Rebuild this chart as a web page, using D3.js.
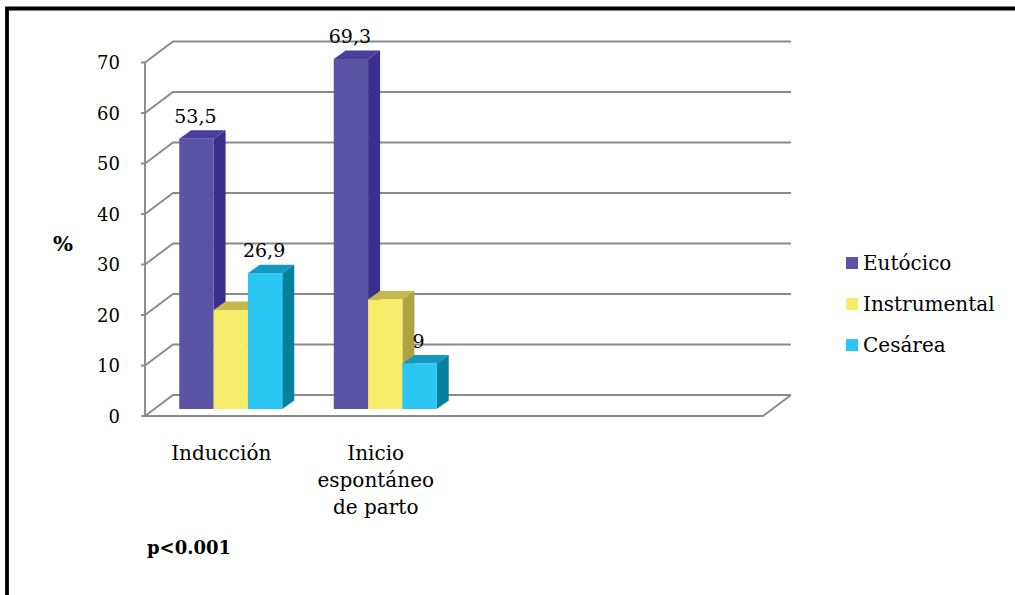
<!DOCTYPE html>
<html>
<head>
<meta charset="utf-8">
<script src="https://cdn.jsdelivr.net/npm/d3@7/dist/d3.min.js"></script>
<style>
  html, body { margin: 0; padding: 0; background: #fff; }
  svg { display: block; }
  text { font-family: "DejaVu Serif", "Liberation Serif", serif; fill: #000; }
</style>
</head>
<body>
<svg id="chart" width="1015" height="595"></svg>
<script>
// Tipo de parto según el inicio del trabajo de parto (%)
const categories = ["Inducción", "Inicio espontáneo de parto"];
const slotCount = 4; // the category axis keeps two empty slots on the right
const series = ["Eutócico", "Instrumental", "Cesárea"];
const eutocico = [53.5, 69.3];
const instrumental = [19.6, 21.7];
const cesarea = [26.9, 9];
const labelled = [true, false, true];
const yTicks = [0, 10, 20, 30, 40, 50, 60, 70];
const yLabel = "%";
const note = "p<0.001";

const values = [eutocico, instrumental, cesarea];
const faceColors = [
  { front: "#5b53a4", side: "#3b2f8e", top: "#4a3f9c" },
  { front: "#f8ec6b", side: "#b0a243", top: "#c7b84c" },
  { front: "#2bc6f2", side: "#0581a0", top: "#1598c0" }
];

const svg = d3.select("#chart");
const fmt = d3.formatLocale({ decimal: ",", thousands: ".", grouping: [3], currency: ["", "€"] }).format("~");

// 3D projection: full floor depth and the bars' placement inside it
const depth = { dx: 28, dy: -21 };
const barOffset = { dx: 8.5, dy: -7 };
const barDepth = { dx: 12, dy: -8.5 };

const x0 = d3.scaleBand()
  .domain(d3.range(slotCount))
  .range([145, 763])
  .paddingInner(1 / 3)
  .paddingOuter(1 / 6);
const x1 = d3.scaleBand()
  .domain(d3.range(series.length))
  .range([0, x0.bandwidth()]);
const y = d3.scaleLinear().domain([0, 70]).range([416, 62.5]);

const grid = svg.append("g")
  .attr("fill", "none")
  .attr("stroke", "#8a8a8a")
  .attr("stroke-width", 1.9);

const xL = x0.range()[0], xR = x0.range()[1];

// back wall lines and side wall diagonals
yTicks.forEach(t => {
  const yy = y(t);
  grid.append("path").attr("d", `M${xL},${yy}L${xL + depth.dx},${yy + depth.dy}L${xR + depth.dx},${yy + depth.dy}`);
});
// floor
grid.append("path").attr("d",
  `M${xL},${y(0)}L${xR},${y(0)}L${xR + depth.dx},${y(0) + depth.dy}`);
// front vertical axis with ticks
grid.append("path").attr("d", `M${xL},${y(0)}L${xL},${y(70)}`);
yTicks.forEach(t => {
  grid.append("path").attr("d", `M${xL - 4},${y(t)}L${xL},${y(t)}`);
});

// tick labels
svg.append("g").selectAll("text").data(yTicks).join("text")
  .attr("x", 120).attr("y", d => y(d)).attr("dy", "0.38em")
  .attr("text-anchor", "end").attr("font-size", 18)
  .text(d => d);

svg.append("text").attr("x", 63).attr("y", 244).attr("dy", "0.35em")
  .attr("text-anchor", "middle").attr("font-size", 21).attr("font-weight", "bold")
  .text(yLabel);

// bars
const bars = svg.append("g");
categories.forEach((cat, ci) => {
  series.forEach((s, si) => {
    const v = values[si][ci];
    const c = faceColors[si];
    const xf = x0(ci) + x1(si) + barOffset.dx;
    const w = x1.bandwidth();
    const yb = y(0) + barOffset.dy;
    const yt = y(v) + barOffset.dy;
    const g = bars.append("g");
    g.append("path").attr("fill", c.top)
      .attr("d", `M${xf},${yt}L${xf + barDepth.dx},${yt + barDepth.dy}L${xf + w + barDepth.dx},${yt + barDepth.dy}L${xf + w},${yt}Z`);
    g.append("path").attr("fill", c.side)
      .attr("d", `M${xf + w},${yt}L${xf + w + barDepth.dx},${yt + barDepth.dy}L${xf + w + barDepth.dx},${yb + barDepth.dy}L${xf + w},${yb}Z`);
    g.append("rect").attr("fill", c.front)
      .attr("x", xf).attr("y", yt).attr("width", w).attr("height", yb - yt);
  });
});

// value labels
const lbl = svg.append("g");
categories.forEach((cat, ci) => {
  series.forEach((s, si) => {
    if (!labelled[si]) return;
    const v = values[si][ci];
    lbl.append("text")
      .attr("x", x0(ci) + x1(si) + barOffset.dx + x1.bandwidth() / 2 - 1)
      .attr("y", y(v) + barOffset.dy - 16)
      .attr("text-anchor", "middle").attr("font-size", 19)
      .text(fmt(v));
  });
});

// category labels, wrapped
function wrap(words, maxW, size) {
  const probe = svg.append("text").attr("font-size", size);
  const lines = [];
  let line = [];
  words.forEach(wd => {
    const test = line.concat([wd]).join(" ");
    probe.text(test);
    if (line.length && probe.node().getComputedTextLength() > maxW) {
      lines.push(line.join(" "));
      line = [wd];
    } else line = line.concat([wd]);
  });
  if (line.length) lines.push(line.join(" "));
  probe.remove();
  return lines;
}
categories.forEach((cat, ci) => {
  const lines = wrap(cat.split(" "), 112, 20);
  const t = svg.append("text").attr("font-size", 20).attr("text-anchor", "middle");
  lines.forEach((ln, i) => {
    t.append("tspan")
      .attr("x", x0(ci) + x0.bandwidth() / 2 - 1)
      .attr("y", 460 + i * 27)
      .text(ln);
  });
});

svg.append("text").attr("x", 147).attr("y", 554)
  .attr("font-size", 18).attr("font-weight", "bold").text(note);

// legend
const legend = svg.append("g").attr("transform", "translate(846,0)");
series.forEach((s, i) => {
  const yy = 262 + i * 41;
  legend.append("rect").attr("x", 0).attr("y", yy - 5).attr("width", 12).attr("height", 12)
    .attr("fill", faceColors[i].front);
  legend.append("text").attr("x", 17).attr("y", yy + 8).attr("font-size", 20).text(s);
});

// frame
svg.append("path").attr("d", "M7,595V8.5H1015")
  .attr("fill", "none").attr("stroke", "#000").attr("stroke-width", 3.8);
</script>
</body>
</html>
